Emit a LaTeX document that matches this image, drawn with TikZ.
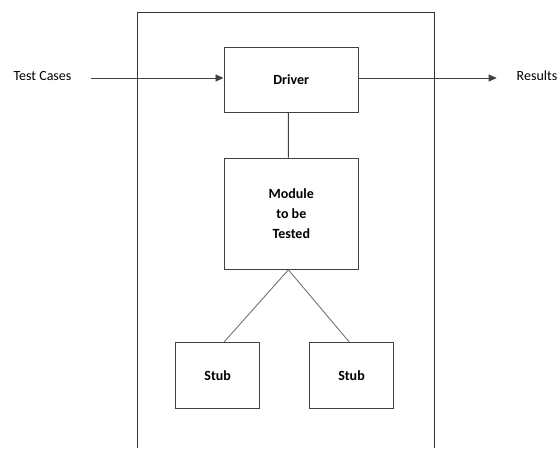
\documentclass[tikz,border=0pt]{standalone}
\usepackage{fontspec}
\setmainfont{Carlito}
\usetikzlibrary{arrows.meta}
\begin{document}
\begin{tikzpicture}[x=1pt,y=-1pt,
  line width=0.9pt,draw=black!75,
  box node/.style={rectangle,draw=black!75,font=\bfseries,fill=white,align=center,inner sep=0pt},
  label node/.style={inner sep=0pt},
  flow/.style={-{Triangle[length=8pt,width=7pt]}}]

  \useasboundingbox (0,0) rectangle (559,448);
  \fontsize{14}{17}\selectfont

  % enclosing frame (open at the bottom)
  \draw[black!80] (137,448) -- (137,12.5) -- (434.5,12.5) -- (434.5,448);

  \node[box node,minimum width=134.5pt,minimum height=65pt] (driver) at (291.2,79.5){Driver};
  \node[box node,minimum width=134.7pt,minimum height=111.3pt] (module) at (291.3,213.7){Module\\[3pt]to be\\[3pt]Tested};
  \node[box node,minimum width=84pt,minimum height=66pt] (stubL) at (217.7,375.3){Stub};
  \node[box node,minimum width=83.6pt,minimum height=66pt] (stubR) at (351.5,375.3){Stub};

  \node[label node] (cases) at (42.5,76){Test Cases};
  \node[label node] (results) at (537,76){Results};
  \coordinate (casesout) at (90.7,78);
  \coordinate (resultsin) at (496.7,78);

  \path[draw=black!75]
    (casesout) edge[flow] (casesout -| driver.west)
    (resultsin -| driver.east) edge[flow] (resultsin)
    (driver.265) edge (module.93)
    (module.267) edge[draw=black!55] (stubL.79)
    (module.267) edge[draw=black!55] (stubR.94);
\end{tikzpicture}
\end{document}
